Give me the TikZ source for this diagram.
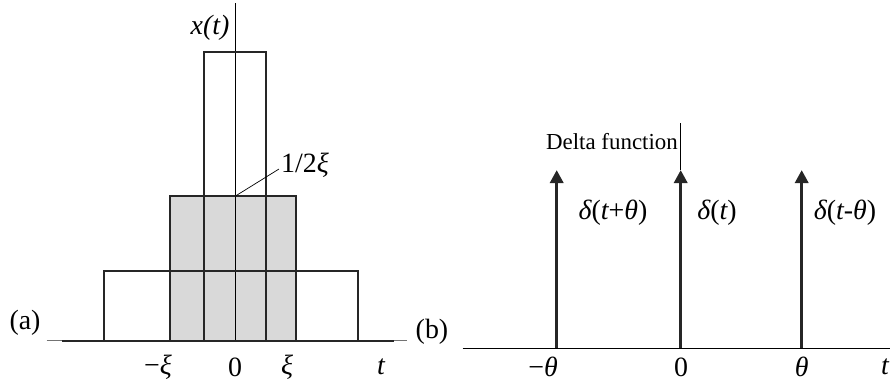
\documentclass[tikz,border=0pt]{standalone}
\usepackage{fontspec}
\setmainfont{Liberation Serif}
\usetikzlibrary{arrows.meta}
\begin{document}
\begin{tikzpicture}[x=1bp,y=-1bp,
  thinax/.style={line width=0.7bp,draw=black!55},
  thinline/.style={line width=0.7bp,draw=black},
  thick outline/.style={line width=1.8bp,draw=black!85},
  lbl/.style={font=\fontsize{28}{32}\selectfont\itshape,inner sep=0pt},
  rlbl/.style={font=\fontsize{28}{32}\selectfont,inner sep=0pt},
  spike/.style={line width=3.5bp,draw=black!85,-{Triangle[width=13bp,length=13bp]}}]
\useasboundingbox (0,0) rectangle (890,385);
% ---------- panel (a) ----------
\coordinate (ax0) at (46.7,340.7);
\coordinate (ax1) at (407,340.7);
\coordinate (vt) at (235,3);
\coordinate (vb) at (235,340.7);
\fill[black!15] (170,196.3) rectangle (296,340.7);
\draw[thinax] (ax0) -- (ax1);
\draw[thinline] (vt) -- (vb);
\draw[thick outline] (104.3,340.7) |- (357.7,271) -- (357.7,340.7);
\draw[thick outline] (170,340.7) |- (296,196.3) -- (296,340.7);
\draw[thick outline] (204,340.7) |- (265.7,52.3) -- (265.7,340.7);
\draw[thick outline] (62,340.7) -- (394,340.7);
\coordinate (lead0) at (235,196.3);
\coordinate (lead1) at (279,169);
\draw[thinline] (lead0) -- (lead1);
\node[lbl] (xt) at (210,28) {x(t)};
\node[lbl,anchor=west] (half) at (281,165) {\upshape 1/2\itshape ξ};
\node[rlbl] (a) at (25,323) {(a)};
\node[lbl] (mxi) at (158,367) {\upshape −\itshape ξ};
\node[rlbl] (z1) at (235,367) {0};
\node[lbl] (xi) at (287,367) {ξ};
\node[lbl] (t1) at (381,367) {t};
% ---------- panel (b) ----------
\node[rlbl] (b) at (432,332) {(b)};
\coordinate (bx0) at (462.7,348.3);
\coordinate (bx1) at (890,348.3);
\draw[line width=1.2bp] (bx0) -- (bx1);
\coordinate (s1b) at (556.7,348.3); \coordinate (s1t) at (556.7,170);
\coordinate (s2b) at (680.7,348.3); \coordinate (s2t) at (680.7,170);
\coordinate (s3b) at (801.7,348.3); \coordinate (s3t) at (801.7,170);
\coordinate (dtop) at (680.7,123);
\draw[thinline] (dtop) -- (s2t);
\draw[spike] (s1b) -- (s1t);
\draw[spike] (s2b) -- (s2t);
\draw[spike] (s3b) -- (s3t);
\node[font=\fontsize{23}{27}\selectfont,inner sep=0pt,anchor=east] (df) at (678,142) {Delta function};
\node[lbl] (d1) at (613,213) {δ\upshape(\itshape t\upshape+\itshape θ\upshape)};
\node[lbl] (d2) at (717,213) {δ\upshape(\itshape t\upshape)};
\node[lbl] (d3) at (845,213) {δ\upshape(\itshape t\upshape -\itshape θ\upshape)};
\node[lbl] (mth) at (543,367) {\upshape −\itshape θ};
\node[rlbl] (z2) at (681,367) {0};
\node[lbl] (th) at (801.7,367) {θ};
\node[lbl] (t2) at (885,367) {t};
\end{tikzpicture}
\end{document}
